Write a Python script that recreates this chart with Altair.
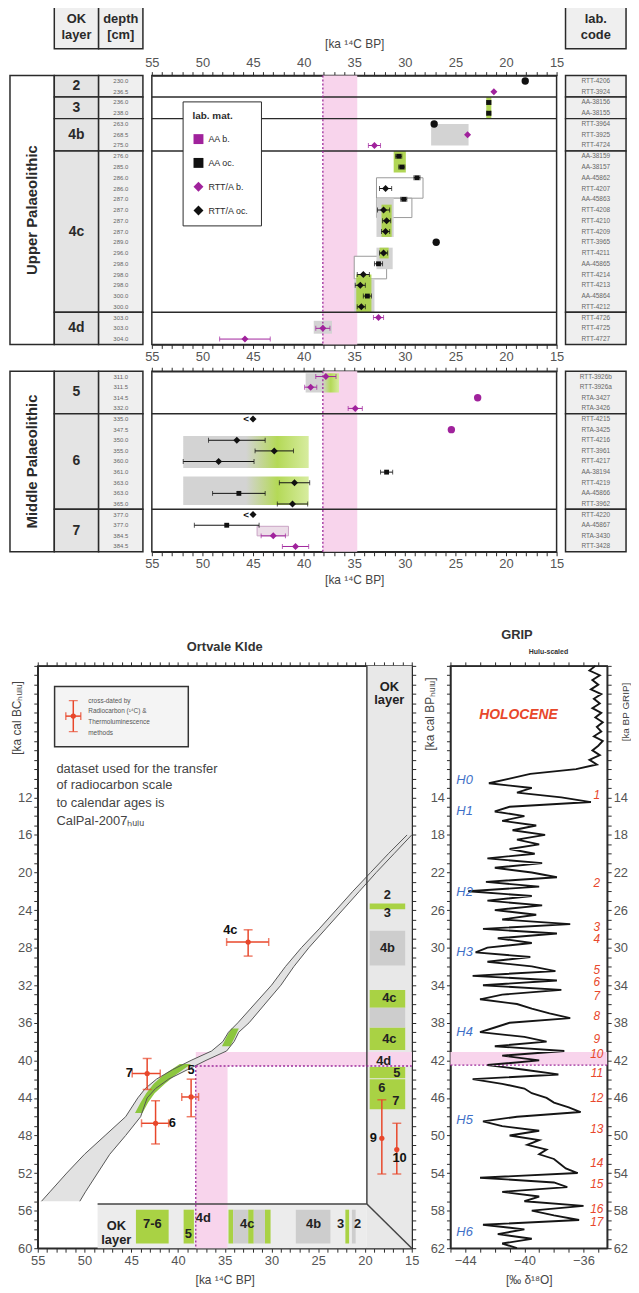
import altair as alt
import pandas as pd

FONT = "Liberation Sans"
INK = "#2a2a2a"
PURPLE = "#a0229c"
DOTBLACK = "#111111"
LIME = "#a9d244"
BOXGREY = "#d3d3d3"
CELL = "#e4e4e4"
CELL2 = "#efefef"
PINK = "#f8d4ec"
DOTPINK = "#9c2a9a"
RED = "#e8472b"
BLUE = "#3e6fc7"

TABLE_COLS = ["period", "layer", "depth"]
HEAD_LEFT_COLS = ["layer", "depth"]
HEAD_LEFT_L1 = ["OK", "depth"]
HEAD_LEFT_L2 = ["layer", "[cm]"]
HEAD_RIGHT_L1 = ["lab."]
HEAD_RIGHT_L2 = ["code"]
KA_TITLE = "[ka \u00b9\u2074C BP]"
KA_DOMAIN = [15, 55]

# ---------------- Upper Palaeolithic (top table) ----------------
TOP_PERIOD = "Upper Palaeolithic"
TOP_LAYERS = ["2", "3", "4b", "4c", "4d"]
TOP_COUNTS = [2, 2, 3, 15, 3]
TOP_DEPTH = ["230.0", "236.5", "236.0", "238.0", "263.0", "268.5", "275.0", "276.0", "285.0",
             "286.0", "286.0", "287.0", "287.0", "287.0", "287.0", "289.0", "296.0", "298.0",
             "298.0", "298.0", "300.0", "300.0", "303.0", "303.0", "304.0"]
TOP_LAB = ["RTT-4206", "RTT-3924", "AA-38156", "AA-38155", "RTT-3964", "RTT-3925", "RTT-4724",
           "AA-38159", "AA-38157", "AA-45862", "RTT-4207", "AA-45863", "RTT-4208", "RTT-4210",
           "RTT-4209", "RTT-3965", "RTT-4211", "AA-45865", "RTT-4214", "RTT-4213", "AA-45864",
           "RTT-4212", "RTT-4726", "RTT-4725", "RTT-4727"]
TOP_KA = [18.1, 21.2, 21.7, 21.7, 27.1, 23.8, 33.0, 30.6, 30.3, 28.8, 31.9, 30.1, 32.1, 31.8,
          31.9, 26.9, 32.1, 32.6, 34.1, 34.4, 33.7, 34.3, 32.6, 38.1, 45.8]
TOP_ERR = [0, 0, 0.2, 0.2, 0, 0, 0.6, 0.3, 0.3, 0.3, 0.6, 0.3, 0.6, 0.4, 0.4, 0, 0.4, 0.4, 0.6,
           0.5, 0.4, 0.4, 0.5, 0.7, 2.5]
TOP_MAT = ["oc", "b", "oc", "oc", "oc", "b", "b", "oc", "oc", "oc", "oc", "oc", "oc", "oc", "oc",
           "oc", "oc", "oc", "oc", "oc", "oc", "oc", "b", "b", "b"]
TOP_OUTLIER = [1, 0, 0, 0, 1, 0, 0, 0, 0, 0, 0, 0, 0, 0, 0, 1, 0, 0, 0, 0, 0, 0, 0, 0, 0]
TOP_LIMIT = [0] * 25
TOP_BOX_R0 = [9.5, 11.4, 16.8, 4.5, 11.4, 16.0, 18.9, 22.8, 2.0, 7.0, 12.0, 16.0, 18.5]
TOP_BOX_R1 = [11.4, 13.2, 18.9, 6.5, 15.0, 18.0, 22.0, 24.0, 4.0, 9.0, 15.0, 17.0, 22.0]
TOP_BOX_OLD = [32.8, 32.8, 35.0, 27.4, 32.8, 32.8, 35.0, 39.0, 21.95, 31.1, 32.3, 32.5, 34.8]
TOP_BOX_YOUNG = [28.2, 29.3, 31.8, 23.7, 31.1, 31.2, 33.0, 37.2, 21.45, 29.9, 31.3, 31.6, 33.3]
TOP_BOX_KIND = ["white", "white", "white", "grey", "grey", "grey", "grey", "grey",
                "green", "green", "green", "green", "green"]

# ---------------- Middle Palaeolithic ----------------
MID_PERIOD = "Middle Palaeolithic"
MID_LAYERS = ["5", "6", "7"]
MID_COUNTS = [4, 9, 4]
MID_DEPTH = ["311.0", "311.5", "314.5", "332.0", "335.0", "347.5", "350.0", "355.0", "360.0",
             "361.0", "363.0", "363.0", "365.0", "377.0", "377.0", "384.5", "384.5"]
MID_LAB = ["RTT-3926b", "RTT-3926a", "RTA-3427", "RTA-3426", "RTT-4215", "RTA-3425", "RTT-4216",
           "RTT-3961", "RTT-4217", "AA-38194", "RTT-4219", "AA-45866", "RTT-3962", "RTT-4220",
           "AA-45867", "RTA-3430", "RTT-3428"]
MID_KA = [37.8, 39.3, 22.8, 34.9, 45.0, 25.4, 46.6, 42.9, 48.4, 31.8, 40.9, 46.4, 41.1, 45.0,
          47.6, 43.0, 40.8]
MID_ERR = [1.0, 0.6, 0, 0.7, 0, 0, 2.8, 1.9, 3.5, 0.6, 1.5, 2.6, 1.5, 0, 3.2, 1.2, 1.3]
MID_MAT = ["b", "b", "b", "b", "oc", "b", "oc", "oc", "oc", "oc", "oc", "oc", "oc", "oc", "oc",
           "b", "b"]
MID_OUTLIER = [0, 0, 1, 0, 0, 1, 0, 0, 0, 0, 0, 0, 0, 0, 0, 0, 0]
MID_LIMIT = [0, 0, 0, 0, 1, 0, 0, 0, 0, 0, 0, 0, 0, 1, 0, 0, 0]
MID_BOX_R0 = [0.2, 6.1, 9.9, 14.6]
MID_BOX_R1 = [2.0, 9.1, 12.6, 15.5]
MID_BOX_OLD = [39.8, 51.9, 51.9, 44.6]
MID_BOX_YOUNG = [36.5, 39.5, 39.5, 41.5]
MID_BOX_KIND = ["grad", "grad", "grad", "pinkgrey"]

PINK_KA = [38.1, 34.7]

KEYS = ["AA  b.", "AA  oc.", "RTT/A  b.", "RTT/A  oc."]
KEY_COLORS = [PURPLE, DOTBLACK, PURPLE, DOTBLACK]
KEY_SHAPES = ["square", "square", "diamond", "diamond"]

# ---------------- Ortvale Klde calibration panel ----------------
CAL_BC = [16, 18, 20, 22, 24, 26, 28, 30, 32, 34, 36, 37, 38, 39, 40, 41, 42, 43, 44, 46, 48,
          50, 52, 54, 55]
CAL_OLD = [15.5, 17.5, 19.4, 21.3, 23.1, 24.9, 26.8, 28.5, 30.0, 31.8, 33.6, 34.6, 35.2, 36.4,
           38.6, 40.6, 42.3, 43.5, 44.3, 45.6, 47.8, 50.0, 51.9, 53.7, 54.6]
CAL_YOUNG = [15.0, 16.9, 18.8, 20.6, 22.4, 24.2, 26.0, 27.6, 29.0, 30.7, 32.4, 33.5, 34.0, 34.8,
             37.0, 39.0, 41.0, 42.4, 43.3, 44.0, 45.6, 47.3, 48.6, 49.9, 50.5]
GREEN_A_BC = [36.6, 37.5, 38.5]
GREEN_A_OLD = [34.3, 34.8, 35.3]
GREEN_A_YOUNG = [33.5, 33.9, 34.4]
GREEN_B_BC = [40.4, 41.5, 42.5, 43.5, 44.5, 45.6]
GREEN_B_OLD = [39.8, 41.5, 42.6, 43.4, 44.0, 44.6]
GREEN_B_YOUNG = [38.6, 40.2, 41.4, 42.5, 43.2, 43.8]

BC_DOMAIN = [-2, 60]
OKCOL_KA = [19.8, 15.0]
OKC_BOX_KA = [19.5, 15.7]
OKC_BC0 = [23.3, 26.2, 32.5, 34.4, 36.5, 40.7, 42.0]
OKC_BC1 = [23.9, 29.9, 34.4, 36.5, 38.9, 41.9, 45.2]
OKC_KIND = ["g", "d", "g", "d", "g", "g", "g"]
OKC_TXT = ["OK\nlayer", "2", "3", "4b", "4c", "4c", "4d", "5", "6", "7"]
OKC_TXT_KA = [17.4, 17.6, 17.6, 17.6, 17.4, 17.4, 18.0, 16.6, 18.2, 16.7]
OKC_TXT_BC = [0.2, 22.4, 24.3, 28.0, 33.4, 37.7, 40.1, 41.4, 43.0, 44.3]

STRIP_KA = [48.6, 19.8]
STRIP_BC = [55.3, 60.0]
SB_BC = [55.9, 59.5]
SB_OLD = [44.5, 39.4, 34.6, 34.1, 32.5, 31.9, 30.7, 27.4, 22.1, 21.4]
SB_YOUNG = [41.0, 38.3, 34.1, 32.5, 31.9, 30.7, 30.1, 23.7, 21.7, 21.0]
SB_KIND = ["g", "g", "g", "d", "g", "d", "g", "d", "g", "d"]
ST_TXT = ["OK\nlayer", "7-6", "5", "4d", "4c", "4b", "3", "2"]
ST_KA = [46.6, 42.75, 38.9, 37.3, 32.6, 25.5, 22.6, 20.8]
ST_BC = [57.6, 57.4, 58.5, 56.8, 57.4, 57.4, 57.4, 57.4]

PINKV_KA = [38.1, 34.7]
PINKV_BC = [40.6, 60.0]
PINKH_KA = [38.1, 15.0]
PINKH_BC = [39.1, 40.6]

CROSS_KA = [32.5, 43.3, 42.4, 38.6]
CROSS_KA_LO = [30.3, 41.9, 41.0, 37.8]
CROSS_KA_HI = [34.8, 44.9, 43.9, 39.6]
CROSS_BC = [27.4, 41.4, 46.7, 43.9]
CROSS_BC_LO = [26.1, 39.8, 44.3, 42.0]
CROSS_BC_HI = [28.9, 43.1, 48.9, 46.0]
TL_KA = [18.2, 16.6]
TL_BC = [48.3, 49.5]
TL_BC_LO = [44.2, 46.7]
TL_BC_HI = [52.1, 52.1]
PT_LABEL = ["4c", "7", "6", "5", "9", "10"]
PT_LABEL_KA = [34.4, 45.2, 40.6, 38.6, 19.1, 16.3]
PT_LABEL_BC = [26.1, 41.4, 46.7, 41.0, 48.3, 50.4]

LEG_BOX_KA = [53.2, 38.9]
LEG_BOX_BC = [0.2, 6.6]
LEG_CROSS = {"ka": [51.2], "klo": [50.4], "khi": [52.0], "bc": [3.35], "blo": [1.7], "bhi": [5.0]}
LEG_TXT = ["cross-dated by", "Radiocarbon (\u00b9\u2074C) &", "Thermoluminescence", "methods"]
LEG_TXT_KA = 49.6
LEG_TXT_BC = [1.7, 2.8, 4.0, 5.1]
DATASET_TXT = ["dataset used for the transfer", "of radiocarbon scale", "to calendar ages is",
               "CalPal-2007\u2095\u1d64\u2097\u1d64"]
DATASET_KA = 53.0
DATASET_BC = [9.0, 10.7, 12.6, 14.5]

# ---------------- GRIP ----------------
GRIP_BP = [0.0, 0.5, 1.0, 1.5, 2.0, 2.5, 3.0, 3.5, 4.0, 4.5, 5.0, 5.5, 6.0, 6.5, 7.0, 7.5, 8.0,
           8.5, 9.0, 9.5, 10.0, 10.5, 11.0, 11.5, 12.0, 12.5, 13.0, 13.5, 14.0, 14.5, 15.0, 15.5,
           16.0, 16.5, 17.0, 17.5, 18.0, 18.5, 19.0, 19.5, 20.0, 20.5, 21.0, 21.5, 22.0, 22.5,
           23.0, 23.5, 24.0, 24.5, 25.0, 25.5, 26.0, 26.5, 27.0, 27.5, 28.0, 28.5, 29.0, 29.5,
           30.0, 30.5, 31.0, 31.5, 32.0, 32.5, 33.0, 33.5, 34.0, 34.5, 35.0, 35.5, 36.0, 36.5,
           37.0, 37.5, 38.0, 38.5, 39.0, 39.5, 40.0, 40.5, 41.0, 41.5, 42.0, 42.5, 43.0, 43.5,
           44.0, 44.5, 45.0, 45.5, 46.0, 46.5, 47.0, 47.5, 48.0, 48.5, 49.0, 49.5, 50.0, 50.5,
           51.0, 51.5, 52.0, 52.5, 53.0, 53.5, 54.0, 54.5, 55.0, 55.5, 56.0, 56.5, 57.0, 57.5,
           58.0, 58.5, 59.0, 59.5, 60.0, 60.5, 61.0, 61.5, 62.0]
GRIP_D18O = [-35.2, -35.6, -34.9, -35.4, -35.0, -35.5, -34.8, -35.3, -34.9, -35.4, -34.8, -35.2,
             -34.7, -35.1, -34.8, -35.3, -34.7, -35.0, -35.4, -34.9, -35.6, -35.1,
             -36.5, -39.6, -41.0, -42.4, -39.5, -40.5, -37.5, -35.5, -41.0, -42.0, -40.0, -41.5,
             -39.2, -40.8, -38.6, -40.5, -39.0, -41.0, -39.3, -42.5,
             -38.8, -42.0, -39.5, -37.8, -42.6, -39.0, -43.8, -39.5, -42.5, -38.8, -42.0, -39.2,
             -41.5, -36.9, -42.8, -37.8, -41.8, -39.5, -42.5, -43.3,
             -39.6, -42.5, -39.5, -37.9, -43.5, -37.8, -42.8, -37.5, -41.5, -43.0, -40.5, -39.5,
             -38.3, -36.9, -41.0, -42.0, -43.0, -40.0, -38.5, -42.0,
             -37.3, -41.5, -39.0, -42.5, -40.0, -37.7, -43.5, -41.5, -40.0, -39.5, -38.5, -38.0,
             -37.0, -36.2, -40.5, -42.8, -41.5, -39.0, -41.0, -39.0,
             -39.8, -38.5, -39.0, -38.0, -37.6, -37.2, -36.4, -43.0, -38.0, -37.1, -41.5, -39.0,
             -40.0, -36.0, -39.5, -38.0, -36.3, -42.8, -40.0, -41.8,
             -39.5, -41.5, -40.5]
GRIP_D_DOMAIN = [-45, -34.4]
GRIP_BP_DOMAIN = [0, 62]
H_LABELS = ["H0", "H1", "H2", "H3", "H4", "H5", "H6"]
H_BP = [12.2, 15.5, 24.1, 30.5, 39.0, 48.4, 60.3]
H_D = -44.6
IS_LABELS = [str(i) for i in range(1, 18)]
IS_BP = [13.8, 23.1, 27.8, 29.1, 32.4, 33.7, 35.1, 37.3, 39.7, 41.3, 43.4, 46.0, 49.3, 52.9,
         55.2, 57.8, 59.2]
IS_D = -35.1
HOLO = {"txt": ["HOLOCENE"], "d": [-40.4], "bp": [5.2]}
GRIP_SUB = {"txt": ["Hulu-scaled"], "d": [-39.7], "bp": [-1.5]}
GRIP_PINK_BP = [41.1, 42.5]
GRIP_DOT_BP = [42.5]


# ================= helpers =================
def starts_of(counts):
    out, s = [], 0
    for c in counts:
        out.append(s)
        s += c
    return out


def kscale():
    return alt.Scale(domain=KA_DOMAIN, reverse=True, nice=False, zero=False)


def kx(field, axis=None):
    return alt.X(field, type="quantitative", scale=kscale(), axis=axis)


def axis_mm(orient, values, label_test, labels=True, title="", **kw):
    return alt.Axis(orient=orient, values=values, labels=labels,
                    labelExpr="(" + label_test + ") ? datum.label : ''",
                    tickSize=4, labelOverlap=False, labelFlush=False, grid=False, title=title, **kw)


K_VALUES = list(range(15, 56))


def spacer(w, h):
    return alt.Chart(pd.DataFrame({"v": [0]})).mark_point(opacity=0).encode(
        x=alt.X("v:Q", axis=None), y=alt.Y("v:Q", axis=None)).properties(width=w, height=h)


def header(cols_all, cols, line1, line2, width):
    df = pd.DataFrame({"col": cols, "l1": line1, "l2": line2, "y0": 0, "y1": 1, "ya": 0.68, "yb": 0.32})
    X = alt.X("col:N", scale=alt.Scale(domain=cols_all, paddingInner=0, paddingOuter=0), axis=None)
    Y = lambda f: alt.Y(f, type="quantitative", scale=alt.Scale(domain=[0, 1], nice=False, zero=False), axis=None)
    r = alt.Chart(df).mark_rect(fill=CELL2, stroke=INK, strokeWidth=1.5).encode(x=X, y=Y("y0"), y2="y1")
    t1 = alt.Chart(df).mark_text(fontSize=13, fontWeight="bold", color=INK, font=FONT).encode(
        x=X, y=Y("ya"), text="l1:N")
    t2 = alt.Chart(df).mark_text(fontSize=13, fontWeight="bold", color=INK, font=FONT).encode(
        x=X, y=Y("yb"), text="l2:N")
    return alt.layer(r, t1, t2).properties(width=width, height=44)


def row_y(n):
    def Y(f):
        return alt.Y(f, type="quantitative",
                     scale=alt.Scale(domain=[0, n], reverse=True, nice=False, zero=False), axis=None)
    return Y


def table_panel(period, layers, counts, depths, height):
    n = sum(counts)
    st = starts_of(counts)
    en = [s + c for s, c in zip(st, counts)]
    X = alt.X("col:N", scale=alt.Scale(domain=TABLE_COLS, paddingInner=0, paddingOuter=0), axis=None)
    Y = row_y(n)
    per = pd.DataFrame({"col": ["period"], "y0": [0], "y1": [n], "mid": [n / 2], "txt": [period]})
    lay = pd.DataFrame({"col": "layer", "y0": st, "y1": en,
                        "mid": [(a + b) / 2 for a, b in zip(st, en)], "txt": layers})
    dep = lay.assign(col="depth")
    rows = pd.DataFrame({"col": "depth", "y": [i + 0.5 for i in range(n)], "txt": depths})
    l1 = alt.Chart(per).mark_rect(fill="white", stroke=INK, strokeWidth=1.5).encode(x=X, y=Y("y0"), y2="y1")
    l2 = alt.Chart(lay).mark_rect(fill=CELL, stroke=INK, strokeWidth=1.5).encode(x=X, y=Y("y0"), y2="y1")
    l3 = alt.Chart(dep).mark_rect(fill=CELL2, stroke=INK, strokeWidth=1.5).encode(x=X, y=Y("y0"), y2="y1")
    t1 = alt.Chart(per).mark_text(angle=270, fontSize=15, fontWeight="bold", color=INK, font=FONT).encode(
        x=X, y=Y("mid"), text="txt:N")
    t2 = alt.Chart(lay).mark_text(fontSize=14, fontWeight="bold", color=INK, font=FONT).encode(
        x=X, y=Y("mid"), text="txt:N")
    t3 = alt.Chart(rows).mark_text(fontSize=6, color="#666", font=FONT).encode(x=X, y=Y("y"), text="txt:N")
    return alt.layer(l1, l2, l3, t1, t2, t3).properties(width=134, height=height)


def lab_panel(counts, labs, height):
    n = sum(counts)
    st = starts_of(counts)
    en = [s + c for s, c in zip(st, counts)]
    Y = row_y(n)
    X = alt.X("col:N", scale=alt.Scale(domain=["lab"], paddingInner=0, paddingOuter=0), axis=None)
    box = pd.DataFrame({"col": "lab", "y0": st, "y1": en})
    rows = pd.DataFrame({"col": "lab", "y": [i + 0.5 for i in range(n)], "txt": labs})
    r = alt.Chart(box).mark_rect(fill=CELL2, stroke=INK, strokeWidth=1.5).encode(x=X, y=Y("y0"), y2="y1")
    t = alt.Chart(rows).mark_text(fontSize=6.5, color="#666", font=FONT).encode(x=X, y=Y("y"), text="txt:N")
    return alt.layer(r, t).properties(width=61, height=height)


GRAD = alt.Gradient(gradient="linear", x1=0, x2=1, y1=0, y2=0,
                    stops=[alt.GradientStop(offset=0, color=BOXGREY),
                           alt.GradientStop(offset=0.5, color=BOXGREY),
                           alt.GradientStop(offset=0.75, color="#b4d957"),
                           alt.GradientStop(offset=1, color="#d7eca0")])


def plot_panel(counts, kas, errs, mats, labs, outl, limits, boxes, height, top_axis, bottom_axis, legend):
    n = sum(counts)
    st = starts_of(counts)
    Y = row_y(n)
    pts = pd.DataFrame({"y": [i + 0.5 for i in range(n)], "ka": kas, "err": errs, "mat": mats,
                        "lab": labs, "out": outl, "lim": limits})
    pts["lo"] = pts["ka"] - pts["err"]
    pts["hi"] = pts["ka"] + pts["err"]
    pts["key"] = [("AA" if l.startswith("AA") else "RTT/A") + "  " + m + "." for l, m in zip(labs, mats)]
    layers = []
    pink = pd.DataFrame({"a": [PINK_KA[0]], "b": [PINK_KA[1]], "y0": [0], "y1": [n]})
    layers.append(alt.Chart(pink).mark_rect(color=PINK).encode(x=kx("a"), x2="b", y=Y("y0"), y2="y1"))
    bx = pd.DataFrame(boxes)
    styles = {
        "white": dict(fill="white", stroke="#9a9a9a", strokeWidth=1),
        "grey": dict(color=BOXGREY),
        "green": dict(color=LIME, opacity=0.9),
        "grad": dict(color=GRAD),
        "pinkgrey": dict(fill="#ecdde8", stroke="#c9a2c3", strokeWidth=1),
    }
    for kind in ["white", "grey", "green", "grad", "pinkgrey"]:
        d = bx[bx["kind"] == kind]
        if len(d):
            layers.append(alt.Chart(d).mark_rect(**styles[kind]).encode(
                x=kx("old"), x2="young", y=Y("r0"), y2="r1"))
    bnd = pd.DataFrame({"b": st[1:], "x0": KA_DOMAIN[0], "x1": KA_DOMAIN[1]})
    layers.append(alt.Chart(bnd).mark_rule(color=INK, strokeWidth=1.5).encode(
        x=kx("x0"), x2="x1", y=Y("b")))
    dotl = pd.DataFrame({"a": [PINK_KA[0]], "y0": [0], "y1": [n]})
    layers.append(alt.Chart(dotl).mark_rule(
        color=DOTPINK, strokeDash=[2, 2], strokeWidth=1.3).encode(x=kx("a"), y=Y("y0"), y2="y1"))
    for mat, col in (("b", PURPLE), ("oc", DOTBLACK)):
        e = pts[(pts["err"] > 0) & (pts["mat"] == mat)]
        if len(e):
            layers.append(alt.Chart(e).mark_rule(color=col, strokeWidth=1).encode(
                x=kx("lo"), x2="hi", y=Y("y")))
            caps = pd.concat([e[["y"]].assign(v=e["lo"]), e[["y"]].assign(v=e["hi"])])
            layers.append(alt.Chart(caps).mark_tick(orient="vertical", size=5, thickness=1, color=col).encode(
                x=kx("v"), y=Y("y")))
    lim = pts[pts["lim"] == 1]
    if len(lim):
        layers.append(alt.Chart(lim).mark_text(text="<", dx=-7, fontSize=10, fontWeight="bold",
                                               color=DOTBLACK, font=FONT).encode(x=kx("ka"), y=Y("y")))
    normal = pts[pts["out"] == 0]
    for pref, size in (("AA", 24), ("RTT/A", 50)):
        d = normal[normal["key"].str.startswith(pref)]
        if len(d):
            leg = None
            if legend:
                leg = alt.Legend(orient="none", legendX=31, legendY=26, title="lab.    mat.",
                                 titleFontSize=10, titleFont=FONT, labelFont=FONT, labelFontSize=9,
                                 labelColor=INK, titleColor=INK, fillColor="white", strokeColor=INK,
                                 padding=10, rowPadding=13, titlePadding=12)
            layers.append(alt.Chart(d).mark_point(filled=True, opacity=1, size=size).encode(
                x=kx("ka"), y=Y("y"),
                color=alt.Color("key:N", scale=alt.Scale(domain=KEYS, range=KEY_COLORS), legend=leg),
                shape=alt.Shape("key:N", scale=alt.Scale(domain=KEYS, range=KEY_SHAPES), legend=leg)))
    for mat, col in (("b", PURPLE), ("oc", DOTBLACK)):
        d = pts[(pts["out"] == 1) & (pts["mat"] == mat)]
        if len(d):
            layers.append(alt.Chart(d).mark_circle(size=55, color=col, opacity=1).encode(
                x=kx("ka"), y=Y("y")))
    axdf = pd.DataFrame({"v": [15], "w": [n / 2]})
    layers.append(alt.Chart(axdf).mark_point(opacity=0).encode(x=kx("v", axis=top_axis), y=Y("w")))
    layers.append(alt.Chart(axdf).mark_point(opacity=0).encode(x=kx("v", axis=bottom_axis), y=Y("w")))
    return alt.layer(*layers).resolve_axis(x="independent").properties(
        width=408, height=height, view=alt.ViewBackground(stroke=INK, strokeWidth=1.5))


def boxes_of(r0, r1, old, young, kind):
    return {"r0": r0, "r1": r1, "old": old, "young": young, "kind": kind}


# ================= panels =================
P1 = header(TABLE_COLS, HEAD_LEFT_COLS, HEAD_LEFT_L1, HEAD_LEFT_L2, 134)
P2 = header(["lab"], ["lab"], HEAD_RIGHT_L1, HEAD_RIGHT_L2, 61)
P3 = table_panel(TOP_PERIOD, TOP_LAYERS, TOP_COUNTS, TOP_DEPTH, 271)
P5 = lab_panel(TOP_COUNTS, TOP_LAB, 271)
P6 = table_panel(MID_PERIOD, MID_LAYERS, MID_COUNTS, MID_DEPTH, 182)
P8 = lab_panel(MID_COUNTS, MID_LAB, 182)

FIVE = "datum.value % 5 === 0"
P4 = plot_panel(TOP_COUNTS, TOP_KA, TOP_ERR, TOP_MAT, TOP_LAB, TOP_OUTLIER, TOP_LIMIT,
                boxes_of(TOP_BOX_R0, TOP_BOX_R1, TOP_BOX_OLD, TOP_BOX_YOUNG, TOP_BOX_KIND), 271,
                axis_mm("top", K_VALUES, FIVE, title=KA_TITLE, titlePadding=6),
                axis_mm("bottom", K_VALUES, FIVE), True)
P7 = plot_panel(MID_COUNTS, MID_KA, MID_ERR, MID_MAT, MID_LAB, MID_OUTLIER, MID_LIMIT,
                boxes_of(MID_BOX_R0, MID_BOX_R1, MID_BOX_OLD, MID_BOX_YOUNG, MID_BOX_KIND), 182,
                axis_mm("top", K_VALUES, "false", labels=False),
                axis_mm("bottom", K_VALUES, FIVE, title=KA_TITLE), False)


# ---------- Ortvale Klde ----------
def bcy(f, axis=None):
    return alt.Y(f, type="quantitative",
                 scale=alt.Scale(domain=BC_DOMAIN, reverse=True, nice=False, zero=False), axis=axis)


def cross_layers(df, X, Y, horiz=True):
    out = []
    if horiz:
        out.append(alt.Chart(df).mark_rule(color=RED, strokeWidth=1.5).encode(x=X("klo"), x2="khi", y=Y("bc")))
        hc = pd.concat([df[["bc"]].assign(v=df["klo"]), df[["bc"]].assign(v=df["khi"])])
        out.append(alt.Chart(hc).mark_tick(orient="vertical", size=8, thickness=1.5, color=RED).encode(
            x=X("v"), y=Y("bc")))
    out.append(alt.Chart(df).mark_rule(color=RED, strokeWidth=1.5).encode(x=X("ka"), y=Y("blo"), y2="bhi"))
    vc = pd.concat([df[["ka"]].assign(v=df["blo"]), df[["ka"]].assign(v=df["bhi"])])
    out.append(alt.Chart(vc).mark_tick(orient="horizontal", size=9, thickness=1.5, color=RED).encode(
        x=X("ka"), y=Y("v")))
    out.append(alt.Chart(df).mark_circle(size=28, color=RED, opacity=1).encode(x=X("ka"), y=Y("bc")))
    return out


def ortvale():
    L = []
    col = pd.DataFrame({"a": [OKCOL_KA[0]], "b": [OKCOL_KA[1]], "y0": [BC_DOMAIN[0]], "y1": [BC_DOMAIN[1]]})
    L.append(alt.Chart(col).mark_rect(color="#e8e8e8").encode(x=kx("a"), x2="b", y=bcy("y0"), y2="y1"))
    strip = pd.DataFrame({"a": [STRIP_KA[0]], "b": [STRIP_KA[1]], "y0": [STRIP_BC[0]], "y1": [STRIP_BC[1]]})
    L.append(alt.Chart(strip).mark_rect(color="#ececec").encode(x=kx("a"), x2="b", y=bcy("y0"), y2="y1"))
    pv = pd.DataFrame({"a": [PINKV_KA[0]], "b": [PINKV_KA[1]], "y0": [PINKV_BC[0]], "y1": [PINKV_BC[1]]})
    ph = pd.DataFrame({"a": [PINKH_KA[0]], "b": [PINKH_KA[1]], "y0": [PINKH_BC[0]], "y1": [PINKH_BC[1]]})
    for d in (pv, ph):
        L.append(alt.Chart(d).mark_rect(color=PINK).encode(x=kx("a"), x2="b", y=bcy("y0"), y2="y1"))
    okc = pd.DataFrame({"y0": OKC_BC0, "y1": OKC_BC1, "kind": OKC_KIND,
                        "a": OKC_BOX_KA[0], "b": OKC_BOX_KA[1]})
    sb = pd.DataFrame({"a": SB_OLD, "b": SB_YOUNG, "kind": SB_KIND, "y0": SB_BC[0], "y1": SB_BC[1]})
    for d in (okc, sb):
        for kind, c in (("g", LIME), ("d", "#cdcdcd")):
            dd = d[d["kind"] == kind]
            L.append(alt.Chart(dd).mark_rect(color=c).encode(x=kx("a"), x2="b", y=bcy("y0"), y2="y1"))
    cal = pd.DataFrame({"bc": CAL_BC, "old": CAL_OLD, "young": CAL_YOUNG})
    L.append(alt.Chart(cal).mark_area(orient="horizontal", color="#e2e2e2").encode(
        y=bcy("bc"), x=kx("old"), x2="young"))
    for g in ({"bc": GREEN_A_BC, "old": GREEN_A_OLD, "young": GREEN_A_YOUNG},
              {"bc": GREEN_B_BC, "old": GREEN_B_OLD, "young": GREEN_B_YOUNG}):
        L.append(alt.Chart(pd.DataFrame(g)).mark_area(orient="horizontal", color="#8cc63f").encode(
            y=bcy("bc"), x=kx("old"), x2="young"))
    for f in ("old", "young"):
        L.append(alt.Chart(cal).mark_line(color="#555", strokeWidth=1).encode(
            x=kx(f), y=bcy("bc"), order=alt.Order("bc:Q")))
    ln = pd.DataFrame({"x": [STRIP_KA[0], OKCOL_KA[0], OKCOL_KA[0]],
                       "x2": [STRIP_KA[1], OKCOL_KA[0], OKCOL_KA[1]],
                       "y": [STRIP_BC[0], BC_DOMAIN[0], STRIP_BC[0]],
                       "y2": [STRIP_BC[0], STRIP_BC[0], STRIP_BC[1]]})
    L.append(alt.Chart(ln).mark_rule(color="#444", strokeWidth=1.5).encode(
        x=kx("x"), x2="x2", y=bcy("y"), y2="y2"))
    dots = pd.DataFrame({"x": [PINKV_KA[0], PINKV_KA[0]], "x2": [PINKV_KA[0], PINKH_KA[1]],
                         "y": [PINKV_BC[0], PINKV_BC[0]], "y2": [PINKV_BC[1], PINKV_BC[0]]})
    L.append(alt.Chart(dots).mark_rule(color=DOTPINK, strokeWidth=1.3, strokeDash=[2, 2]).encode(
        x=kx("x"), x2="x2", y=bcy("y"), y2="y2"))
    t1 = pd.DataFrame({"txt": OKC_TXT, "ka": OKC_TXT_KA, "bc": OKC_TXT_BC})
    t2 = pd.DataFrame({"txt": ST_TXT, "ka": ST_KA, "bc": ST_BC})
    for d in (t1, t2):
        L.append(alt.Chart(d).mark_text(fontSize=13, fontWeight="bold", color="#222", font=FONT,
                                        lineBreak="\n", lineHeight=14).encode(
            x=kx("ka"), y=bcy("bc"), text="txt:N"))
    cr = pd.DataFrame({"ka": CROSS_KA, "klo": CROSS_KA_LO, "khi": CROSS_KA_HI, "bc": CROSS_BC,
                       "blo": CROSS_BC_LO, "bhi": CROSS_BC_HI})
    L += cross_layers(cr, kx, bcy, True)
    tl = pd.DataFrame({"ka": TL_KA, "bc": TL_BC, "blo": TL_BC_LO, "bhi": TL_BC_HI})
    L += cross_layers(tl, kx, bcy, False)
    lab = pd.DataFrame({"txt": PT_LABEL, "ka": PT_LABEL_KA, "bc": PT_LABEL_BC})
    L.append(alt.Chart(lab).mark_text(fontSize=13, fontWeight="bold", color="#111", font=FONT).encode(
        x=kx("ka"), y=bcy("bc"), text="txt:N"))
    lb = pd.DataFrame({"a": [LEG_BOX_KA[0]], "b": [LEG_BOX_KA[1]], "y0": [LEG_BOX_BC[0]], "y1": [LEG_BOX_BC[1]]})
    L.append(alt.Chart(lb).mark_rect(fill="#f4f4f4", stroke="#333", strokeWidth=1.5).encode(
        x=kx("a"), x2="b", y=bcy("y0"), y2="y1"))
    L += cross_layers(pd.DataFrame(LEG_CROSS), kx, bcy, True)
    lt = pd.DataFrame({"txt": LEG_TXT, "ka": LEG_TXT_KA, "bc": LEG_TXT_BC})
    L.append(alt.Chart(lt).mark_text(fontSize=6.5, color="#555", font=FONT, align="left").encode(
        x=kx("ka"), y=bcy("bc"), text="txt:N"))
    dt = pd.DataFrame({"txt": DATASET_TXT, "ka": DATASET_KA, "bc": DATASET_BC})
    L.append(alt.Chart(dt).mark_text(fontSize=13, color="#444", font=FONT, align="left").encode(
        x=kx("ka"), y=bcy("bc"), text="txt:N"))
    axdf = pd.DataFrame({"v": [15], "w": [30]})
    L.append(alt.Chart(axdf).mark_point(opacity=0).encode(
        x=kx("v", axis=axis_mm("bottom", K_VALUES, FIVE, title=KA_TITLE, titlePadding=8)),
        y=bcy("w", axis=axis_mm("left", list(range(-2, 61)),
                                "datum.value % 4 === 0 && datum.value >= 12",
                                title="[ka cal BC\u2095\u1d64\u2097\u1d64]", titleX=-21, titleY=52,
                                titleAngle=270, titleAlign="center", titleBaseline="middle"))))
    L.append(alt.Chart(axdf).mark_point(opacity=0).encode(
        x=kx("v", axis=axis_mm("top", K_VALUES, "false", labels=False)),
        y=bcy("w", axis=axis_mm("right", list(range(-2, 61)), "false", labels=False))))
    return alt.layer(*L).resolve_axis(x="independent", y="independent").properties(
        width=377, height=587, view=alt.ViewBackground(stroke=INK, strokeWidth=1.5),
        title=alt.Title("Ortvale Klde", fontSize=13, fontWeight="bold", color="#333", font=FONT, offset=6))


def grip():
    def gx(f, axis=None):
        return alt.X(f, type="quantitative",
                     scale=alt.Scale(domain=GRIP_D_DOMAIN, nice=False, zero=False), axis=axis)

    def gy(f, axis=None):
        return alt.Y(f, type="quantitative",
                     scale=alt.Scale(domain=GRIP_BP_DOMAIN, reverse=True, nice=False, zero=False), axis=axis)
    L = []
    pk = pd.DataFrame({"y0": [GRIP_PINK_BP[0]], "y1": [GRIP_PINK_BP[1]],
                       "x0": [GRIP_D_DOMAIN[0]], "x1": [GRIP_D_DOMAIN[1]]})
    L.append(alt.Chart(pk).mark_rect(color=PINK).encode(x=gx("x0"), x2="x1", y=gy("y0"), y2="y1"))
    dl = pd.DataFrame({"y": GRIP_DOT_BP, "x0": [GRIP_D_DOMAIN[0]], "x1": [GRIP_D_DOMAIN[1]]})
    L.append(alt.Chart(dl).mark_rule(color=DOTPINK, strokeWidth=1.3, strokeDash=[2, 2]).encode(
        x=gx("x0"), x2="x1", y=gy("y")))
    g = pd.DataFrame({"bp": GRIP_BP, "d": GRIP_D18O})
    L.append(alt.Chart(g).mark_line(color="#151515", strokeWidth=1.9).encode(
        x=gx("d"), y=gy("bp"), order=alt.Order("bp:Q")))
    h = pd.DataFrame({"txt": H_LABELS, "bp": H_BP, "d": H_D})
    L.append(alt.Chart(h).mark_text(fontSize=13, fontStyle="italic", color=BLUE, font=FONT, align="left").encode(
        x=gx("d"), y=gy("bp"), text="txt:N"))
    isd = pd.DataFrame({"txt": IS_LABELS, "bp": IS_BP, "d": IS_D})
    L.append(alt.Chart(isd).mark_text(fontSize=12, fontStyle="italic", color=RED, font=FONT).encode(
        x=gx("d"), y=gy("bp"), text="txt:N"))
    L.append(alt.Chart(pd.DataFrame(HOLO)).mark_text(fontSize=14, fontStyle="italic", fontWeight="bold",
                                                     color=RED, font=FONT).encode(
        x=gx("d"), y=gy("bp"), text="txt:N"))
    L.append(alt.Chart(pd.DataFrame(GRIP_SUB)).mark_text(fontSize=7, fontWeight="bold", color="#333",
                                                         font=FONT, align="left").encode(
        x=gx("d"), y=gy("bp"), text="txt:N"))
    yv = list(range(0, 63))
    lab_t = "datum.value % 4 === 2 && datum.value >= 14"
    xv = list(range(-45, -34))
    axdf = pd.DataFrame({"v": [-40], "w": [30]})
    L.append(alt.Chart(axdf).mark_point(opacity=0).encode(
        x=gx("v", axis=axis_mm("bottom", xv, "datum.value % 4 === 0", title="[\u2030 \u03b4\u00b9\u2078O]",
                               titlePadding=8)),
        y=gy("w", axis=axis_mm("left", yv, lab_t, title="[ka cal BP\u2095\u1d64\u2097\u1d64]",
                               titleX=-21, titleY=48, titleAngle=270, titleAlign="center",
                               titleBaseline="middle"))))
    L.append(alt.Chart(axdf).mark_point(opacity=0).encode(
        x=gx("v", axis=axis_mm("top", xv, "false", labels=False)),
        y=gy("w", axis=axis_mm("right", yv, lab_t, title="[ka BP GRIP]", titleFontSize=10,
                               titleX=18, titleY=46, titleAngle=270, titleAlign="center",
                               titleBaseline="middle"))))
    return alt.layer(*L).resolve_axis(x="independent", y="independent").properties(
        width=158, height=587, view=alt.ViewBackground(stroke=INK, strokeWidth=1.5),
        title=alt.Title("GRIP", fontSize=13, fontWeight="bold", color="#333", font=FONT, offset=6, dx=-12))


P9 = ortvale()
P10 = grip()

top = alt.concat(
    P1, spacer(408, 44), P2,
    P3, P4, P5,
    P6, P7, P8,
    columns=3, spacing={"row": 27, "column": 9}, bounds="flush", align="each",
).resolve_scale(color="independent", shape="independent")

bottom = alt.hconcat(spacer(19, 587), P9, spacer(21, 587), P10, spacing=9, bounds="flush")

chart = alt.vconcat(top, bottom, spacing=42).properties(
    padding={"left": 0, "top": -10, "right": 0, "bottom": 0}
).configure(font=FONT).configure_view(
    stroke="transparent"
).configure_axis(
    labelFont=FONT, titleFont=FONT, labelColor="#555", labelFontSize=13, titleColor="#444",
    titleFontSize=12, titleFontWeight="normal", tickColor=INK, domainColor=INK, domainWidth=1.5,
    tickWidth=1, labelPadding=2
)

chart.save("out.html", embed_options={"renderer": "svg", "actions": False})
